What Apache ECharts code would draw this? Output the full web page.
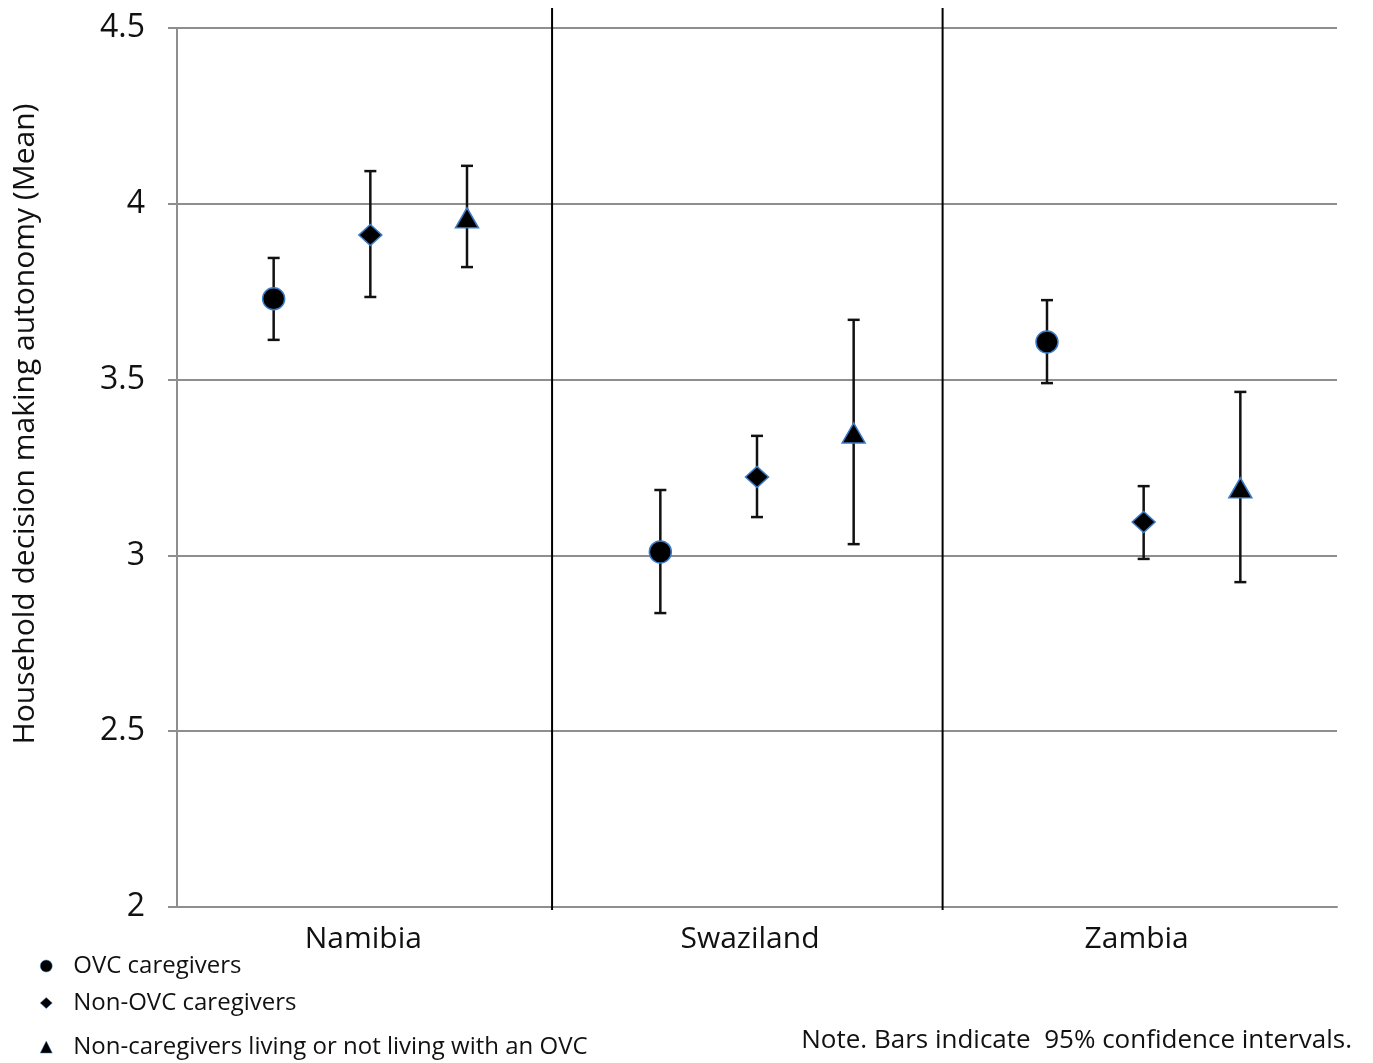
<!DOCTYPE html>
<html>
<head>
<meta charset="utf-8">
<script src="https://cdn.jsdelivr.net/npm/echarts@6/dist/echarts.min.js"></script>
<style>html,body{margin:0;padding:0;background:#fff}#c{width:1373px;height:1063px}</style>
</head>
<body>
<div id="c"></div>
<script>
const countries = ['Namibia', 'Swaziland', 'Zambia'];
const groups = ['OVC caregivers', 'Non-OVC caregivers', 'Non-caregivers living or not living with an OVC'];
const yTicks = [2, 2.5, 3, 3.5, 4, 4.5];
// means and 95% CI per group, one value per country
const ovcMean = [3.73, 3.01, 3.607];
const ovcLow = [3.613, 2.836, 3.49];
const ovcHigh = [3.846, 3.186, 3.726];
const nonOvcMean = [3.911, 3.223, 3.095];
const nonOvcLow = [3.735, 3.109, 2.99];
const nonOvcHigh = [4.093, 3.34, 3.197];
const nonCgMean = [3.96, 3.348, 3.192];
const nonCgLow = [3.82, 3.032, 2.924];
const nonCgHigh = [4.108, 3.67, 3.465];
const noteText = 'Note. Bars indicate  95% confidence intervals.';
const yTitle = 'Household decision making autonomy (Mean)';

const means = [ovcMean, nonOvcMean, nonCgMean];
const lows = [ovcLow, nonOvcLow, nonCgLow];
const highs = [ovcHigh, nonOvcHigh, nonCgHigh];
const symbols = ['circle', 'diamond', 'triangle'];
const symSizes = [[22, 22], [23, 21], [23, 20]];
const xOf = (c, g) => c * 4 + g + 1;

const FONT = 'Open Sans';
const markerStyle = { color: '#000', borderColor: '#3b7bc8', borderWidth: 1.5, opacity: 1 };

const scatterSeries = groups.map((g, gi) => ({
  name: g,
  type: 'scatter',
  symbol: symbols[gi],
  symbolSize: symSizes[gi],
  itemStyle: markerStyle,
  z: 5,
  data: countries.map((c, ci) => [xOf(ci, gi), means[gi][ci]])
}));

const errData = [];
groups.forEach((g, gi) => countries.forEach((c, ci) => {
  errData.push([xOf(ci, gi), lows[gi][ci], highs[gi][ci]]);
}));

const sepData = [[3.88, 2], [7.92, 2]];

const chart = echarts.init(document.getElementById('c'));
chart.setOption({
  animation: false,
  textStyle: { fontFamily: FONT },
  grid: { left: 177, right: 36, top: 28, bottom: 156 },
  xAxis: {
    type: 'value', min: 0, max: 12, interval: 1,
    axisLine: { show: true, lineStyle: { color: '#8e8e8e', width: 2 } },
    axisTick: { show: false },
    splitLine: { show: false },
    axisLabel: {
      margin: 17,
      fontFamily: FONT, fontSize: 30, color: '#111',
      padding: [0, 14, 0, 0],
      formatter: v => (v === 2 ? countries[0] : v === 6 ? countries[1] : v === 10 ? countries[2] : '')
    }
  },
  yAxis: {
    type: 'value', min: yTicks[0], max: yTicks[yTicks.length - 1], interval: 0.5,
    axisLine: { show: true, lineStyle: { color: '#8e8e8e', width: 2 } },
    axisTick: { show: true, length: 9, lineStyle: { color: '#8e8e8e', width: 2 } },
    splitLine: { show: true, lineStyle: { color: '#8e8e8e', width: 2 } },
    axisLabel: { margin: 32, fontFamily: FONT, fontSize: 32, color: '#111', formatter: v => String(v) }
  },
  legend: groups.map((g, gi) => ({
    data: [{ name: g, icon: symbols[gi] }],
    left: 35,
    top: [949, 986, 1030][gi],
    itemWidth: 12,
    itemHeight: [12, 11, 12][gi],
    selectedMode: false,
    textStyle: { fontFamily: FONT, fontSize: 24, color: '#111', padding: [[6, 0, 0, 16], [-5, 0, 0, 16], [4, 0, 0, 16]][gi] },
    itemStyle: { color: '#000', borderColor: '#3b7bc8', borderWidth: 0.5, opacity: 1 }
  })),
  graphic: [
    {
      type: 'text', x: 25, y: 424, rotation: Math.PI / 2,
      style: { text: yTitle, fontFamily: FONT, fontSize: 30, fill: '#111', align: 'center', verticalAlign: 'middle' }
    },
    {
      type: 'text', x: 1352, y: 1041,
      style: { text: noteText, fontFamily: FONT, fontSize: 26, fill: '#111', align: 'right', verticalAlign: 'middle' }
    }
  ],
  series: [
    {
      type: 'custom',
      silent: true,
      z: 2,
      data: sepData,
      renderItem: (params, api) => {
        const x = api.value(0);
        const t = api.coord([x, 4.5]);
        const b = api.coord([x, 2]);
        return { type: 'line', shape: { x1: t[0], y1: t[1] - 20, x2: b[0], y2: b[1] + 3 }, style: { stroke: '#000', lineWidth: 2 } };
      }
    },
    {
      type: 'custom',
      silent: true,
      z: 3,
      data: errData,
      renderItem: (params, api) => {
        const x = api.value(0);
        const lo = api.coord([x, api.value(1)]);
        const hi = api.coord([x, api.value(2)]);
        const w = 6;
        const st = { stroke: '#111', lineWidth: 2.5 };
        return {
          type: 'group',
          children: [
            { type: 'line', shape: { x1: hi[0], y1: hi[1], x2: lo[0], y2: lo[1] }, style: st },
            { type: 'line', shape: { x1: hi[0] - w, y1: hi[1], x2: hi[0] + w, y2: hi[1] }, style: st },
            { type: 'line', shape: { x1: lo[0] - w, y1: lo[1], x2: lo[0] + w, y2: lo[1] }, style: st }
          ]
        };
      }
    }
  ].concat(scatterSeries)
});
</script>
</body>
</html>
